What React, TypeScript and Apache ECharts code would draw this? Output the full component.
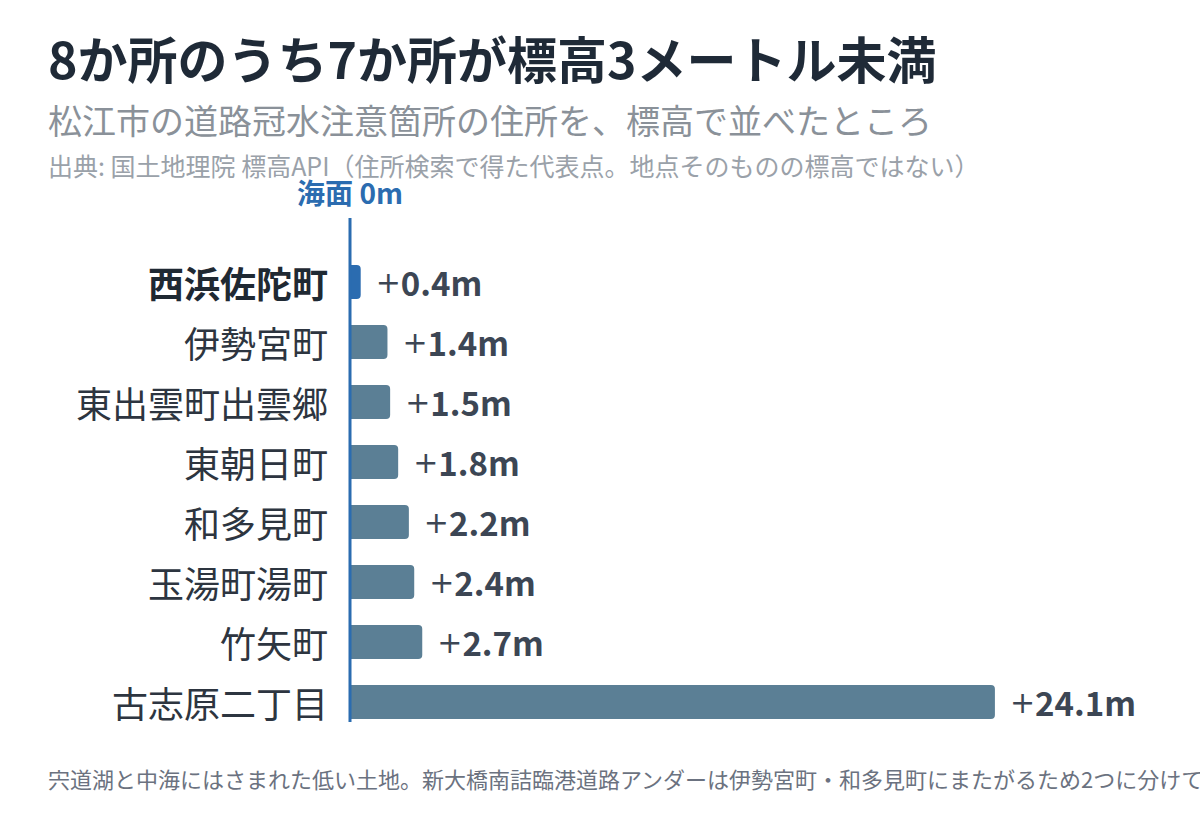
import React, { useEffect, useRef } from "react";
import * as echarts from "echarts";

const categories = [
  "西浜佐陀町",
  "伊勢宮町",
  "東出雲町出雲郷",
  "東朝日町",
  "和多見町",
  "玉湯町湯町",
  "竹矢町",
  "古志原二丁目",
];
const elevations = [0.4, 1.4, 1.5, 1.8, 2.2, 2.4, 2.7, 24.1];
const highlightIndex = 0;

const titleText = "8か所のうち7か所が標高3メートル未満";
const subtitleText = "松江市の道路冠水注意箇所の住所を、標高で並べたところ";
const sourceText = "出典: 国土地理院 標高API（住所検索で得た代表点。地点そのものの標高ではない）";
const noteText = "宍道湖と中海にはさまれた低い土地。新大橋南詰臨港道路アンダーは伊勢宮町・和多見町にまたがるため2つに分けて";
const seaLabel = "海面 0m";

const FONT = '"Noto Sans CJK JP", "Noto Sans", sans-serif';

export default function App() {
  const ref = useRef<HTMLDivElement>(null);
  useEffect(() => {
    document.body.style.margin = "0";
    if (!ref.current) return;
    const chart = echarts.init(ref.current, null, { renderer: "svg" });
    const gridLeft = 350;
    const gridTop = 252;
    const gridHeight = 480;
    const txt = (text: string, x: number, y: number, size: number, weight: string, color: string, align = "left") => ({
      type: "text",
      x,
      y,
      style: {
        text,
        fill: color,
        font: `${weight} ${size}px ${FONT}`,
        textAlign: align,
        textVerticalAlign: "middle",
      },
    });
    chart.setOption({
      animation: false,
      backgroundColor: "#ffffff",
      textStyle: { fontFamily: FONT },
      grid: { left: gridLeft, top: gridTop, width: 669, height: gridHeight, containLabel: false },
      xAxis: {
        type: "value",
        min: 0,
        max: 25,
        show: false,
      },
      yAxis: {
        type: "category",
        data: categories,
        inverse: true,
        axisLine: { show: false },
        axisTick: { show: false },
        axisLabel: {
          margin: 22,
          fontFamily: FONT,
          formatter: (v: string, i: number) => (i === highlightIndex ? `{b|${v}}` : `{n|${v}}`),
          rich: {
            b: { fontSize: 36, fontWeight: "bold", color: "#1f2933", fontFamily: FONT },
            n: { fontSize: 36, fontWeight: "normal", color: "#2d3540", fontFamily: FONT },
          },
        },
      },
      series: [
        {
          type: "bar",
          barWidth: 34,
          data: elevations.map((v, i) => ({
            value: v,
            itemStyle: {
              color: i === highlightIndex ? "#2b6cb0" : "#5b7f95",
              borderRadius: [0, 4, 4, 0],
            },
          })),
          label: {
            show: true,
            position: "right",
            distance: 15,
            formatter: (p: any) => `{p|+}{v|${Number(p.value).toFixed(1)}m}`,
            rich: {
              p: { fontSize: 30, fontWeight: "normal", color: "#3c4654", fontFamily: '"DejaVu Sans", sans-serif' },
              v: { fontSize: 33, fontWeight: "bold", color: "#3c4654", fontFamily: FONT },
            },
          },
        },
      ],
      graphic: [
        txt(titleText, 48, 57, 50, "bold", "#1f2a37"),
        txt(subtitleText, 48, 119, 34, "normal", "#8a9199"),
        txt(sourceText, 48, 165, 25, "normal", "#9aa1a9"),
        txt(noteText, 48, 778, 22, "normal", "#6b7280"),
        txt(seaLabel, gridLeft, 192, 28, "bold", "#2b6cb0", "center"),
        {
          type: "line",
          shape: { x1: gridLeft, y1: 218, x2: gridLeft, y2: 722 },
          style: { stroke: "#2b6cb0", lineWidth: 3 },
          z: 10,
        },
      ],
    });
    return () => chart.dispose();
  }, []);
  return <div ref={ref} style={{ width: 1200, height: 828 }} />;
}
